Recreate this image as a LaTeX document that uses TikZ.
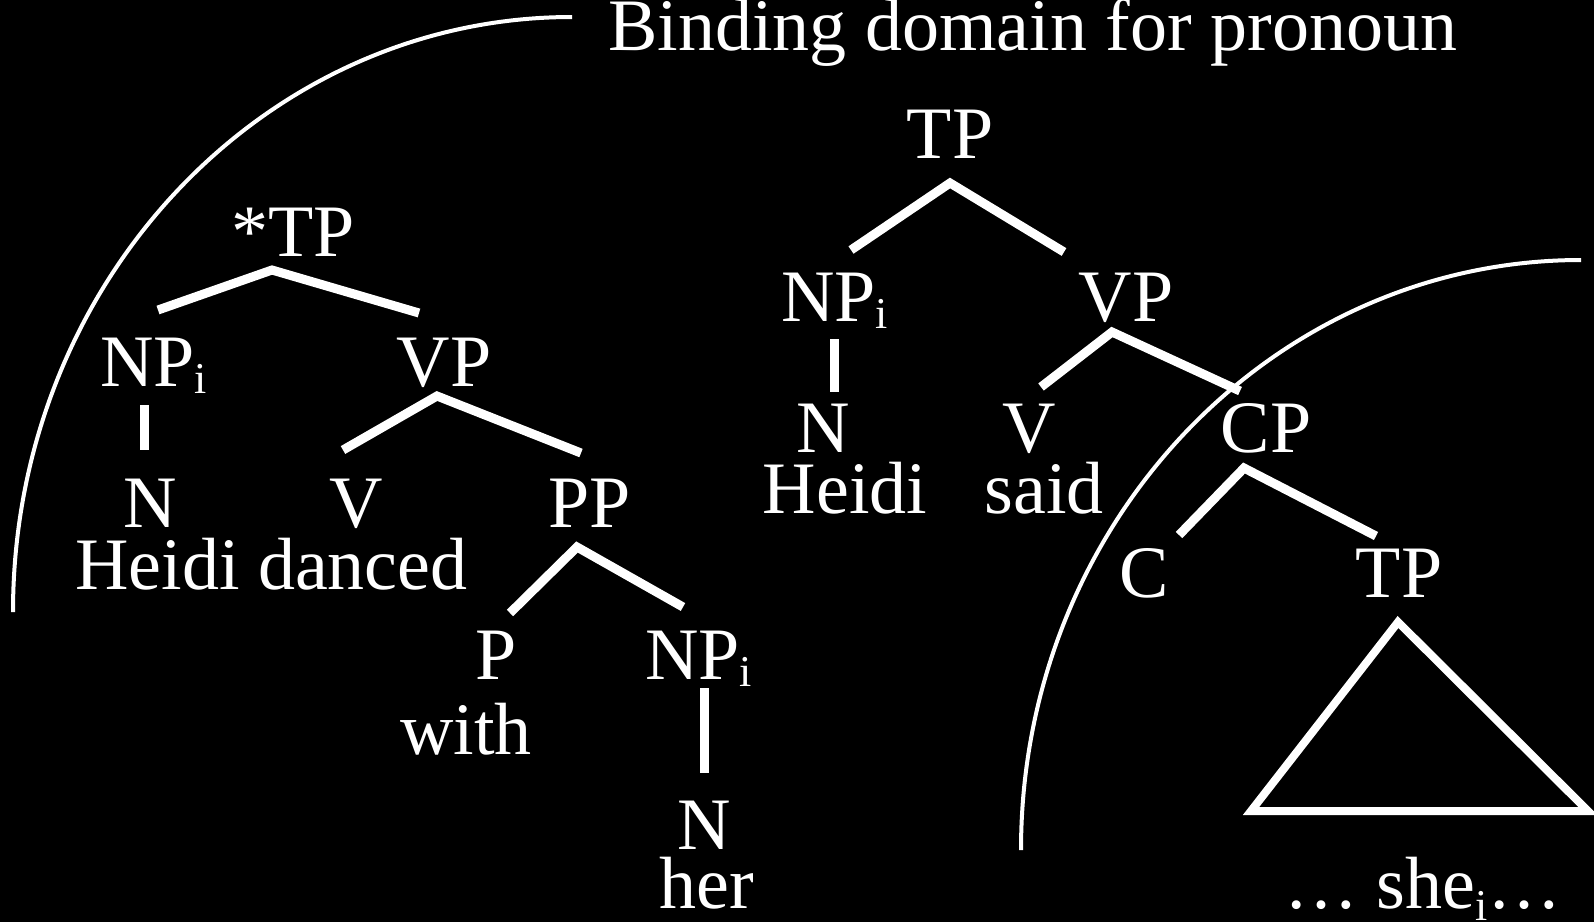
\documentclass[tikz,border=0pt]{standalone}
\usepackage{fontspec}
\setmainfont{Liberation Serif}
\newcommand{\subi}[1]{\raisebox{-#1}{\fontsize{44}{44}\selectfont i}}
\begin{document}
\begin{tikzpicture}[x=1pt,y=-1pt,
  lbl/.style={inner sep=0pt, anchor=base, text=white, font=\fontsize{74}{74}\selectfont},
  branch/.style={draw=white, line width=9pt},
  domainline/.style={draw=white, line width=4pt}]
\fill[black] (0,0) rectangle (1594,922);
\useasboundingbox (0,0) rectangle (1594,922);

% title and binding-domain arcs
\node[lbl, anchor=base west] (title) at (608,50) {Binding domain for pronoun};
\coordinate (arcAtop) at (572,17);
\coordinate (arcBtop) at (1581,260);
\draw[domainline] (arcAtop) arc[start angle=90, end angle=180, x radius=559pt, y radius=595pt];
\draw[domainline] (arcBtop) arc[start angle=90, end angle=180, x radius=560pt, y radius=590pt];

% left tree
\node[lbl] (tp1) at (293,256) {*TP};
\node[lbl, anchor=base west] (np1) at (100,386) {NP\subi{7pt}};
\node[lbl] (vp1) at (444,386) {VP};
\node[lbl] (n1) at (150,527) {N};
\node[lbl] (v1) at (356,527) {V};
\node[lbl] (pp1) at (590,527) {PP};
\node[lbl, anchor=base west] (hd1) at (75,589) {Heidi danced};
\node[lbl] (p1) at (496,679) {P};
\node[lbl, anchor=base west] (np2) at (645,679) {NP\subi{7pt}};
\node[lbl] (with) at (466,754) {with};
\node[lbl] (n2) at (704,849) {N};
\node[lbl] (her) at (707,908) {her};

\coordinate (tp1a) at (272,270);
\coordinate (tp1l) at (158,310);
\coordinate (tp1r) at (419,313);
\draw[branch] (tp1l) -- (tp1a) -- (tp1r);
\coordinate (np1t) at (144,405);
\coordinate (np1b) at (144,450);
\draw[branch] (np1t) -- (np1b);
\coordinate (vp1a) at (437,396);
\coordinate (vp1l) at (343,450);
\coordinate (vp1r) at (581,453);
\draw[branch] (vp1l) -- (vp1a) -- (vp1r);
\coordinate (pp1a) at (577,547);
\coordinate (pp1l) at (510,613);
\coordinate (pp1r) at (683,607);
\draw[branch] (pp1l) -- (pp1a) -- (pp1r);
\coordinate (np2t) at (704,688);
\coordinate (np2b) at (704,773);
\draw[branch] (np2t) -- (np2b);

% right tree
\node[lbl] (tp2) at (950,158) {TP};
\node[lbl, anchor=base west] (np3) at (781,321) {NP\subi{7pt}};
\node[lbl] (vp2) at (1126,321) {VP};
\node[lbl] (n3) at (823,452) {N};
\node[lbl] (v2) at (1029,452) {V};
\node[lbl] (cp) at (1266,452) {CP};
\node[lbl] (heidi2) at (845,513) {Heidi};
\node[lbl] (said) at (1044,513) {said};
\node[lbl] (c) at (1144,597) {C};
\node[lbl] (tp3) at (1399,597) {TP};
\node[lbl, anchor=base west] (she) at (1284,908) {… she\subi{12pt}…};

\coordinate (tp2a) at (950,183);
\coordinate (tp2l) at (851,250);
\coordinate (tp2r) at (1064,252);
\draw[branch] (tp2l) -- (tp2a) -- (tp2r);
\coordinate (np3t) at (834,339);
\coordinate (np3b) at (834,392);
\draw[branch] (np3t) -- (np3b);
\coordinate (vp2a) at (1112,332);
\coordinate (vp2l) at (1041,387);
\coordinate (vp2r) at (1240,391);
\draw[branch] (vp2l) -- (vp2a) -- (vp2r);
\coordinate (cpa) at (1244,468);
\coordinate (cpl) at (1179,535);
\coordinate (cpr) at (1376,536);
\draw[branch] (cpl) -- (cpa) -- (cpr);
\coordinate (tri1) at (1398,622);
\coordinate (tri2) at (1251,811);
\coordinate (tri3) at (1588,811);
\draw[branch, line width=8pt] (tri1) -- (tri2) -- (tri3) -- cycle;
\end{tikzpicture}
\end{document}
